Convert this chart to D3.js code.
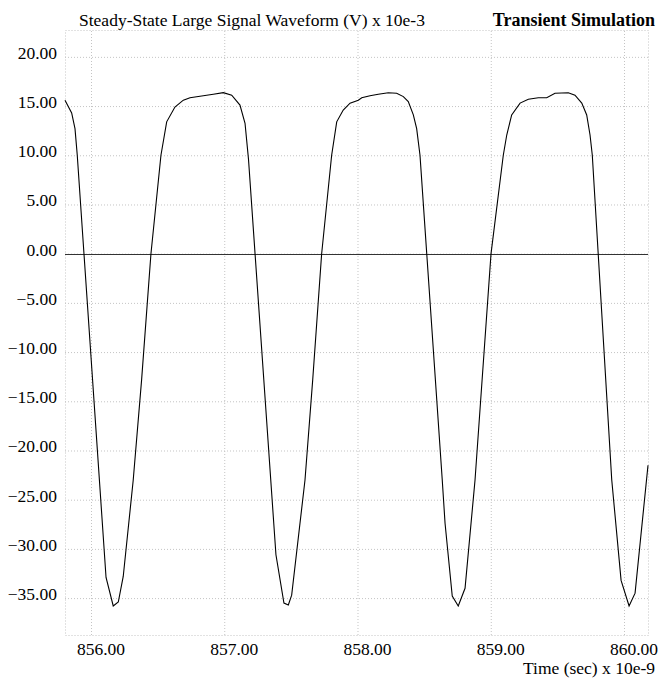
<!DOCTYPE html>
<html>
<head>
<meta charset="utf-8">
<script src="https://cdn.jsdelivr.net/npm/d3@7"></script>
<style>
body {margin: 0; background: #fff;}
text {font-family: "Liberation Serif", "Times New Roman", serif; fill: #000;}
</style>
</head>
<body>
<div class="chart"></div>
<script>
// time in ns, voltage in mV
let times = [855.805, 855.855, 855.880, 855.897, 856.113, 856.167, 856.205, 856.242, 856.317, 856.380,
  856.450, 856.525, 856.568, 856.630, 856.693, 856.743, 856.843, 856.918, 856.993, 857.056,
  857.118, 857.156, 857.182, 857.388, 857.448, 857.481, 857.506, 857.606, 857.664, 857.731,
  857.806, 857.844, 857.893, 857.944, 858.006, 858.032, 858.094, 858.156, 858.231, 858.294,
  858.344, 858.381, 858.419, 858.444, 858.469, 858.636, 858.657, 858.711, 858.756, 858.807,
  858.882, 859.002, 859.094, 859.120, 859.157, 859.220, 859.282, 859.357, 859.420, 859.482,
  859.582, 859.632, 859.683, 859.720, 859.745, 859.762, 859.908, 859.978, 860.038, 860.083,
  860.180];
let volts = [15.6, 14.3, 12.7, 10.0, -32.9, -35.8, -35.4, -32.8, -23.0, -12.8,
  0.0, 10.0, 13.4, 14.9, 15.6, 15.85, 16.05, 16.2, 16.36, 16.1,
  15.1, 13.25, 9.6, -30.6, -35.5, -35.7, -34.7, -23.0, -12.8, 0.0,
  10.0, 13.4, 14.6, 15.3, 15.6, 15.85, 16.05, 16.2, 16.36, 16.3,
  15.96, 15.45, 14.1, 12.7, 10.0, -23.0, -27.4, -34.8, -35.8, -34.0,
  -23.0, 0.0, 10.0, 12.06, 14.1, 15.3, 15.7, 15.85, 15.85, 16.3,
  16.36, 16.1, 15.3, 14.1, 12.06, 10.0, -23.0, -33.2, -35.8, -34.5,
  -21.5];

let xTicks = [856, 857, 858, 859, 860];
let yTicks = [20, 15, 10, 5, 0, -5, -10, -15, -20, -25, -30, -35];

let titleText = "Steady-State Large Signal Waveform (V) x 10e-3";
let sideText = "Transient Simulation";
let xLabel = "Time (sec) x 10e-9";

let width = 659;
let height = 678;
let margin = {top: 30, right: 11, bottom: 43, left: 65};
let plotW = width - margin.left - margin.right;
let plotH = height - margin.top - margin.bottom;
let gridCol = "#c4c4c4";
let serif = '"Liberation Serif", "Times New Roman", serif';
let fs = "17.5px";

let data = times.map((t, i) => ({t: t, v: volts[i]}));

const svg = d3.select(".chart")
  .append("svg")
  .attr("width", width)
  .attr("height", height);

let x = d3.scaleLinear()
  .domain([855.805, 860.18])
  .range([margin.left, margin.left + plotW]);

let y = d3.scaleLinear()
  .domain([-38.75, 22.73])
  .range([margin.top + plotH, margin.top]);

// frame
svg.append("rect")
  .attr("x", margin.left + 0.5)
  .attr("y", margin.top + 0.5)
  .attr("width", plotW)
  .attr("height", plotH)
  .attr("fill", "none")
  .attr("stroke", gridCol)
  .attr("stroke-dasharray", "1,2");

let gy = svg.append("g")
  .attr("transform", "translate(" + margin.left + ",0)")
  .call(d3.axisLeft(y).tickValues(yTicks).tickSize(-plotW).tickPadding(8).tickFormat(d3.format(".2f")));
gy.select(".domain").remove();
gy.selectAll("line").attr("stroke", gridCol).attr("stroke-dasharray", "1,2");
gy.selectAll("text")
  .attr("dy", 1.5)
  .style("font-family", serif)
  .style("font-size", fs);

let gx = svg.append("g")
  .attr("transform", "translate(0," + (margin.top + plotH) + ")")
  .call(d3.axisBottom(x).tickValues(xTicks).tickSize(-plotH).tickPadding(8).tickFormat(d3.format(".2f")));
gx.select(".domain").remove();
gx.selectAll("line").attr("stroke", gridCol).attr("stroke-dasharray", "1,2");
gx.selectAll("text")
  .attr("dx", 9.5)
  .style("font-family", serif)
  .style("font-size", fs);

// zero line
svg.append("line")
  .attr("x1", margin.left)
  .attr("x2", margin.left + plotW)
  .attr("y1", Math.round(y(0)) + 0.5)
  .attr("y2", Math.round(y(0)) + 0.5)
  .attr("stroke", "#333")
  .attr("stroke-width", 1);

let line = d3.line()
  .x(d => x(d.t))
  .y(d => y(d.v));

svg.append("path")
  .datum(data)
  .attr("d", line)
  .attr("fill", "none")
  .attr("stroke", "#000")
  .attr("stroke-width", 1.1);

svg.append("text")
  .attr("x", 79)
  .attr("y", 26)
  .style("font-size", fs)
  .text(titleText);

svg.append("text")
  .attr("x", 655)
  .attr("y", 26)
  .style("font-size", "18px")
  .attr("font-weight", "bold")
  .attr("text-anchor", "end")
  .text(sideText);

svg.append("text")
  .attr("x", 655)
  .attr("y", 674)
  .style("font-size", fs)
  .attr("text-anchor", "end")
  .text(xLabel);
</script>
</body>
</html>
